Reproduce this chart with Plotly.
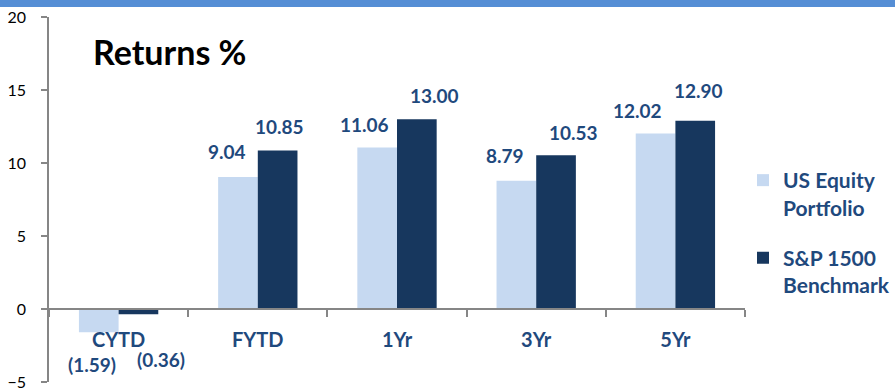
import plotly.graph_objects as go

# Returns by period
periods = ["CYTD", "FYTD", "1Yr", "3Yr", "5Yr"]
portfolio = [-1.59, 9.04, 11.06, 8.79, 12.02]
benchmark = [-0.36, 10.85, 13.00, 10.53, 12.90]
series_names = ["US Equity<br>Portfolio", "S&P 1500<br>Benchmark"]

LIGHT = "#C6D9F1"
DARK = "#17375E"
TEXT_BLUE = "#1F497D"
AXIS_GRAY = "#868686"
FONT = "Lato, 'Liberation Sans', sans-serif"

W, H = 895, 390
M_L, M_R, M_T, M_B = 49, 150, 17, 8
plot_w = W - M_L - M_R
plot_h = H - M_T - M_B
BARGAP = 0.43
bar_px = plot_w / len(periods) * (1 - BARGAP) / 2

fig = go.Figure()
fig.add_trace(go.Bar(x=periods, y=portfolio, name=series_names[0],
                     marker=dict(color=LIGHT, line=dict(width=0)),
                     legendgroup="a"))
fig.add_trace(go.Bar(x=periods, y=benchmark, name=series_names[1],
                     marker=dict(color=DARK, line=dict(width=0)),
                     legendgroup="b"))


def fmt(v):
    return f"({abs(v):.2f})" if v < 0 else f"{v:.2f}"


# value labels: small horizontal nudges per label, placed above/below bar ends
nudge_light = [-7, -11, -13, -11, -18]
nudge_dark = [23, 2, 18, 17, 3]
lift_light = [32, 26, 23, 25, 23]
lift_dark = [45, 24, 24, 23, 30]
for i, p in enumerate(periods):
    for vals, side, nudge, lift in ((portfolio, -1, nudge_light, lift_light),
                                    (benchmark, 1, nudge_dark, lift_dark)):
        v = vals[i]
        fig.add_annotation(
            x=p, y=v, xref="x", yref="y", text=fmt(v), showarrow=False,
            xanchor="center", yanchor="middle",
            xshift=side * bar_px / 2 + nudge[i],
            yshift=lift[i] if v >= 0 else -lift[i],
            font=dict(family=FONT, size=19, color=TEXT_BLUE, weight="bold"),
        )

# chart title
fig.add_annotation(
    x=(169 - M_L) / plot_w, y=1 - (52 - M_T) / plot_h, xref="paper", yref="paper",
    text="<b>Returns %</b>", showarrow=False, xanchor="center", yanchor="middle",
    font=dict(family=FONT, size=34, color="#000000"),
)

# blue band along the top edge
fig.add_shape(
    type="rect", xref="paper", yref="paper",
    x0=-M_L / plot_w, x1=(W - M_L) / plot_w,
    y0=1 + (M_T - 7) / plot_h, y1=1 + M_T / plot_h + 0.01,
    fillcolor="#558ED5", line=dict(width=0), layer="above",
)

fig.update_layout(
    width=W, height=H,
    margin=dict(l=M_L, r=M_R, t=M_T, b=M_B, pad=0, autoexpand=False),
    paper_bgcolor="white", plot_bgcolor="white",
    barmode="group", bargap=BARGAP, bargroupgap=0,
    font=dict(family=FONT),
    showlegend=True,
    legend=dict(
        x=(743 - M_L) / plot_w, y=1 - (160 - M_T) / plot_h,
        xanchor="left", yanchor="top",
        font=dict(family=FONT, size=21, color=TEXT_BLUE, weight="bold"),
        valign="top", traceorder="grouped", tracegroupgap=20,
        itemwidth=30, bgcolor="rgba(0,0,0,0)",
    ),
    xaxis=dict(
        type="category", anchor="free", position=0.2, automargin=False,
        showline=True, linecolor=AXIS_GRAY, linewidth=1.5,
        ticks="outside", tickson="boundaries", ticklen=7, tickcolor=AXIS_GRAY,
        tickwidth=1.5, showgrid=False, ticklabelstandoff=13,
        tickfont=dict(family=FONT, size=20, color=TEXT_BLUE, weight="bold"),
    ),
    yaxis=dict(
        range=[-5, 20], dtick=5, tick0=0, ticklabeloverflow="allow",
        automargin=False,
        showline=True, linecolor=AXIS_GRAY, linewidth=1.5,
        ticks="outside", ticklen=6, tickcolor=AXIS_GRAY, tickwidth=1.5,
        showgrid=False, zeroline=False, ticklabelstandoff=12,
        tickfont=dict(family=FONT, size=16, color="#000000"),
    ),
)

fig.write_html("out.html")
